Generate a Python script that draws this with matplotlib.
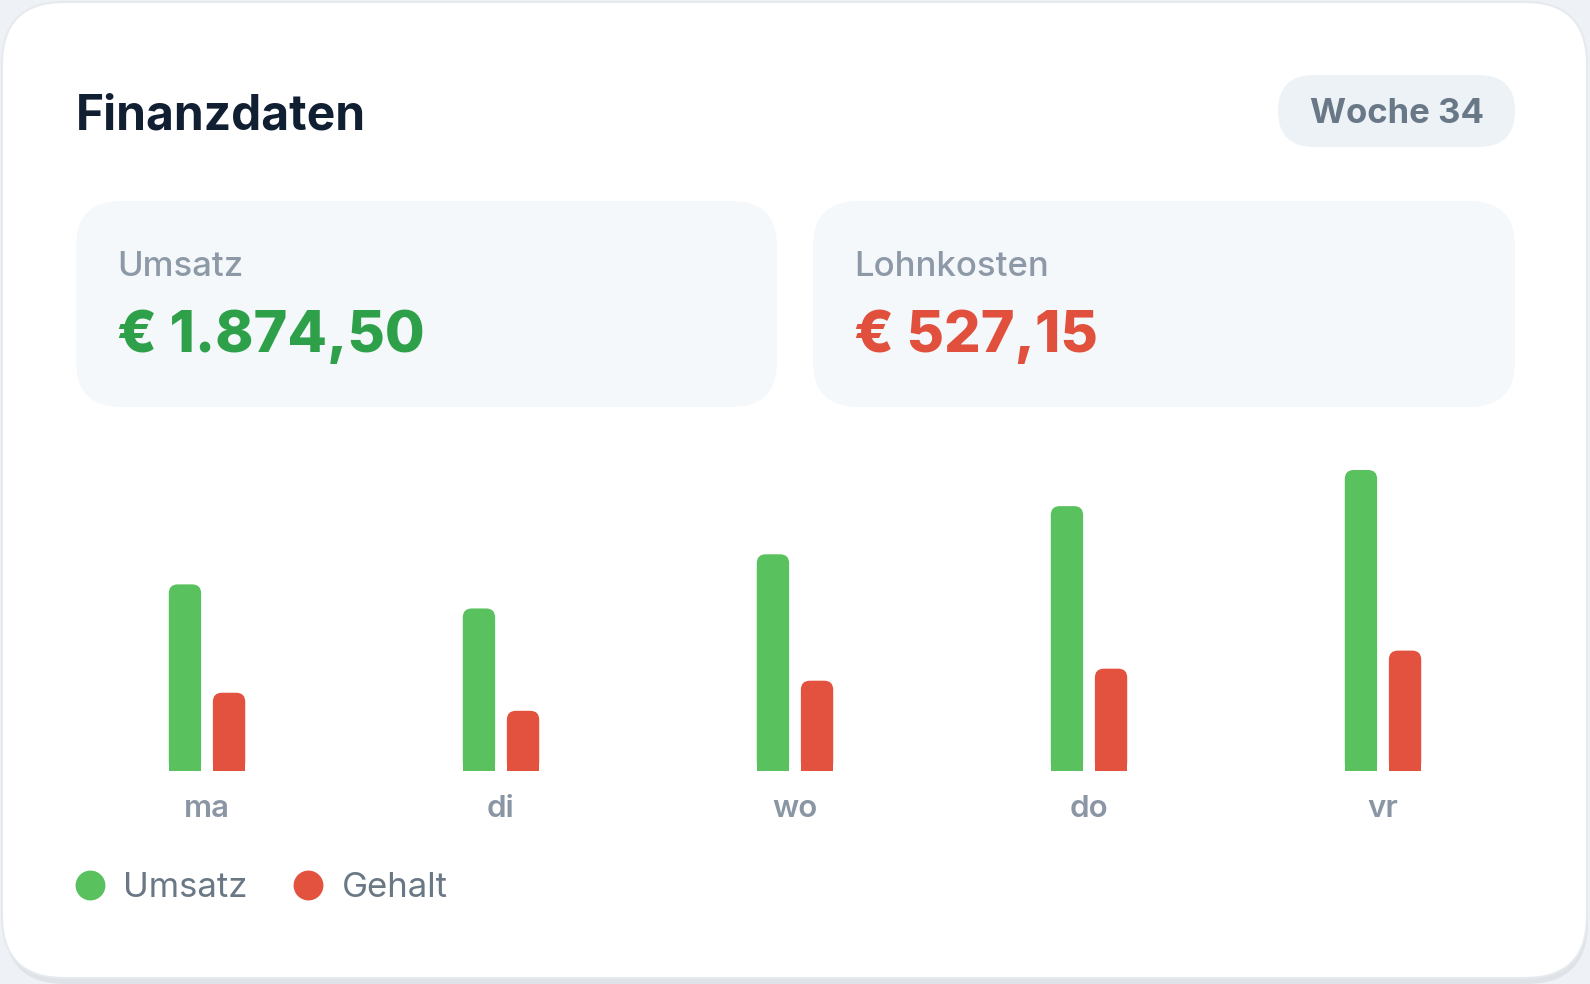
import matplotlib
matplotlib.use("Agg")
import matplotlib.pyplot as plt
from matplotlib.patches import FancyBboxPatch, Rectangle
from matplotlib.lines import Line2D

plt.rcParams['font.family'] = ['Inter', 'DejaVu Sans']

# ---- data ----
tage = ['ma', 'di', 'wo', 'do', 'vr']
umsatz = [310, 270, 360, 440, 500]
gehalt = [130, 100, 150, 170, 200]
titel = 'Finanzdaten'
woche = 'Woche 34'
kpi_namen = ['Umsatz', 'Lohnkosten']
kpi_werte = ['€ 1.874,50', '€ 527,15']
legende = ['Umsatz', 'Gehalt']

GRUEN = '#59c15d'
ROT = '#e2523e'
W, H = 1590, 984

fig = plt.figure(figsize=(W / 100, H / 100), dpi=100)
fig.patch.set_facecolor('#eef1f5')

# hintergrund-achse in pixeln
bg = fig.add_axes([0, 0, 1, 1])
bg.set_xlim(0, W)
bg.set_ylim(H, 0)
bg.axis('off')

def box(ax, x0, y0, x1, y1, r, fc, ec='none', lw=0, z=1):
    p = FancyBboxPatch((x0 + r, y0 + r), x1 - x0 - 2 * r, y1 - y0 - 2 * r,
                       boxstyle=f"round,pad={r}", fc=fc, ec=ec, lw=lw, zorder=z)
    ax.add_patch(p)

# schatten + karte
box(bg, 4, 10, 1588, 984, 62, '#dfe3e8', z=0)
box(bg, 2, 2, 1587, 978, 62, '#ffffff', ec='#e6eaef', lw=1.5, z=1)

bg.text(76, 130, titel, fontsize=34.5, fontweight='bold', color='#111f33',
        va='baseline', ha='left', zorder=3)

# woche pill
box(bg, 1278, 75, 1515, 147, 36, '#edf2f7', z=2)
bg.text(1396.5, 123, woche, fontsize=25, fontweight='bold', color='#697887',
        va='baseline', ha='center', zorder=3)

# kpi kaesten
kpi_x = [(76, 777), (813, 1515)]
kpi_farben = ['#2fa04a', '#e1503c']
for (x0, x1), name, wert, col in zip(kpi_x, kpi_namen, kpi_werte, kpi_farben):
    box(bg, x0, 201, x1, 407, 45, '#f4f8fb', z=2)
    bg.text(x0 + 41, 276, name, fontsize=25, fontweight='medium', color='#8d99a6',
            va='baseline', ha='left', zorder=3)
    bg.text(x0 + 41, 352, wert, fontsize=41.5, fontweight='heavy', color=col,
            va='baseline', ha='left', zorder=3)

# ---- balken ----
ax_l, ax_r = 60, 1530
y_base, y_top = 771, 470   # pixel fuer 0 und 500
ax = fig.add_axes([ax_l / W, (H - y_base) / H, (ax_r - ax_l) / W, (y_base - y_top) / H])
ax.set_xlim(-0.5, 4.5)
ax.set_ylim(0, 500)
ax.patch.set_alpha(0)
for s in ax.spines.values():
    s.set_visible(False)
ax.set_yticks([])
ax.set_xticks(range(len(tage)), tage)
ax.tick_params(axis='x', length=0, pad=17, labelsize=22.5, labelcolor='#8a96a4')
for lb in ax.get_xticklabels():
    lb.set_fontweight('semibold')

bw = 0.11
off = 0.075
xs = list(range(len(tage)))
b1 = ax.bar([x - off for x in xs], umsatz, width=bw, color=GRUEN)
b2 = ax.bar([x + off for x in xs], gehalt, width=bw, color=ROT)

# abgerundete kappen
px_x = (ax.get_xlim()[1] - ax.get_xlim()[0]) / (ax_r - ax_l)
px_y = (ax.get_ylim()[1] - ax.get_ylim()[0]) / (y_base - y_top)
r = 9 * px_x
asp = px_y / px_x
for bars in (b1, b2):
    for rect in bars:
        x, w, h = rect.get_x(), rect.get_width(), rect.get_height()
        col = rect.get_facecolor()
        rect.set_visible(False)
        ax.add_patch(FancyBboxPatch((x, 0), w, h, boxstyle=f"round,pad=0,rounding_size={r}",
                                    mutation_aspect=asp, fc=col, ec='none', clip_on=False))
        ax.add_patch(Rectangle((x, 0), w, h / 2, fc=col, ec='none', clip_on=False))

# legende
handles = [Line2D([], [], marker='o', ls='none', ms=21.5, mfc=c, mec='none')
           for c in (GRUEN, ROT)]
fig.legend(handles, legende, loc='center left', bbox_to_anchor=(73 / W, (H - 888) / H),
           ncol=2, frameon=False, fontsize=25, labelcolor='#6a7785', borderpad=0,
           borderaxespad=0, handlelength=1.0, handletextpad=0.45, columnspacing=1.25)

fig.savefig('out.png', dpi=100, facecolor=fig.get_facecolor())
